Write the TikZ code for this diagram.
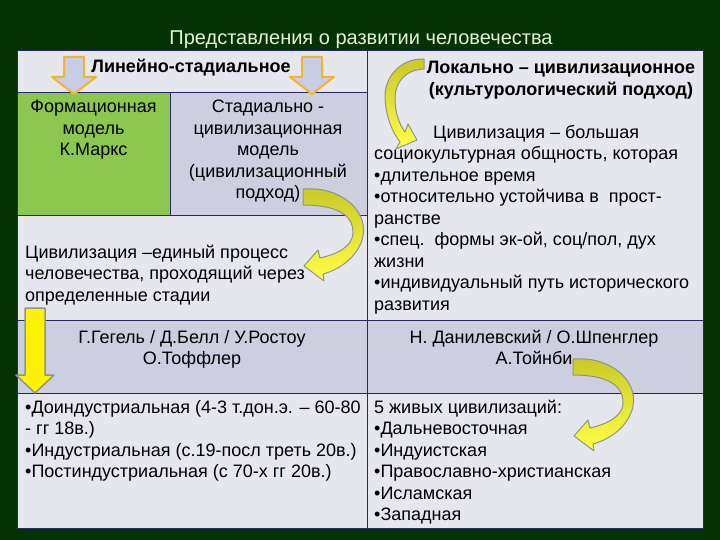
\documentclass[tikz,border=0pt]{standalone}
\usepackage{fontspec}
\setmainfont{Liberation Sans}
\definecolor{slidebg}{RGB}{4,50,4}
\definecolor{celllight}{RGB}{230,231,238}
\definecolor{cellgray}{RGB}{205,207,224}
\definecolor{cellgreen}{RGB}{140,200,80}
\definecolor{gridline}{RGB}{40,40,100}
\definecolor{titlecol}{RGB}{225,242,215}
\definecolor{olivey}{RGB}{200,200,40}
\definecolor{brighty}{RGB}{255,255,70}
\definecolor{rimgray}{RGB}{140,150,140}
\definecolor{arrlav}{RGB}{200,205,230}
\definecolor{arrgold}{RGB}{245,180,40}
\begin{document}
\begin{tikzpicture}[x=1pt,y=-1pt,
	txt/.style={inner sep=0pt,font=\fontsize{18}{21.5}\selectfont},
	hdr/.style={inner sep=0pt,font=\fontsize{18}{21.5}\selectfont\bfseries},
	cell/.style={draw=gridline,line width=0.8pt},
	bendarrow/.style={top color=olivey,bottom color=brighty,draw=rimgray,line width=1pt,line join=round},
	downarrow/.style={fill=arrlav,draw=arrgold,line width=2pt,line join=round}]
	\fill[slidebg] (0,0) rectangle (720,540);
	\useasboundingbox (0,0) rectangle (720,540);
	\def\bend{
		\draw[bendarrow] (303,189) .. controls (340,186) and (368,210) .. (363,236)
		.. controls (360,252) and (345,268) .. (323,274) -- (324,281) -- (304,266) -- (318,250) -- (320,258)
		.. controls (338,254) and (352,246) .. (353,234) .. controls (354,214) and (335,205) .. (303,205) -- cycle;
	}
	\filldraw[cell,fill=celllight] (17,50) rectangle (367,92);
	\filldraw[cell,fill=cellgreen] (17,92) rectangle (170,215);
	\filldraw[cell,fill=cellgray] (170,92) rectangle (367,215);
	\filldraw[cell,fill=celllight] (17,215) rectangle (367,320);
	\filldraw[cell,fill=celllight] (367,50) rectangle (703,320);
	\filldraw[cell,fill=cellgray] (17,320) rectangle (367,393) (367,320) rectangle (703,393);
	\filldraw[cell,fill=celllight] (17,393) rectangle (367,528) (367,393) rectangle (703,528);
	\node[txt,anchor=base,text=titlecol,font=\fontsize{20}{24}\selectfont] (title) at (361,45) {Представления о развитии человечества};
	\node[hdr,anchor=base] (hdrL) at (191,73) {Линейно-стадиальное};
	\node[hdr,anchor=base,align=center] (hdrR) at (561,95.5) {Локально – цивилизационное\\(культурологический подход)};
	\node[txt,anchor=base,align=center] (formation) at (93.5,156) {Формационная\\модель\\К.Маркс};
	\node[txt,anchor=base,align=center] (stagecivil) at (268,199) {Стадиально -\\цивилизационная\\модель\\(цивилизационный\\подход)};
	\node[txt,anchor=base west,align=left] (process) at (25,301) {Цивилизация –единый процесс\\человечества, проходящий через\\определенные стадии};
	\node[txt,anchor=base west,align=left] (civdef) at (374,310) {\hspace*{59pt}Цивилизация – большая\\социокультурная общность, которая\\•длительное время\\•относительно устойчива в\ \ прост-\\ранстве\\•спец.\ \ формы эк-ой, соц/пол, дух\\жизни\\•индивидуальный путь исторического\\развития};
	\node[txt,anchor=base,align=center] (westauth) at (192,364.5) {Г.Гегель / Д.Белл / У.Ростоу\\О.Тоффлер};
	\node[txt,anchor=base,align=center] (eastauth) at (534,364.5) {Н. Данилевский / О.Шпенглер\\А.Тойнби};
	\node[txt,anchor=base west,align=left] (stagelist) at (25,477.5) {•Доиндустриальная (4-3 т.дон.э. – 60-80\\- гг 18в.)\\•Индустриальная (с.19-посл треть 20в.)\\•Постиндустриальная (с 70-х гг 20в.)};
	\node[txt,anchor=base west,align=left] (civlist) at (374,520.5) {5 живых цивилизаций:\\•Дальневосточная\\•Индуистская\\•Православно-христианская\\•Исламская\\•Западная};
	\foreach \x in {74,312}
		\draw[downarrow] (\x-10,57) -- (\x+10,57) -- (\x+10,77) -- (\x+22,77) -- (\x,94) -- (\x-22,77) -- (\x-10,77) -- cycle;
	\draw[fill=yellow,draw=rimgray,line width=1.5pt,line join=round] (25,308) -- (45,308) -- (45,375) -- (54,375) -- (35,393) -- (16,375) -- (25,375) -- cycle;
	\bend
	\begin{scope}[shift={(270,170)}]\bend\end{scope}
	\draw[bendarrow] (424,59) .. controls (400,58) and (384,78) .. (385,98) .. controls (386,118) and (393,133) .. (400,142)
		-- (396,149) -- (417,140) -- (408,124) -- (405,132) .. controls (399,124) and (395,112) .. (395,99)
		.. controls (395,82) and (405,70) .. (424,69) -- cycle;
\end{tikzpicture}
\end{document}
